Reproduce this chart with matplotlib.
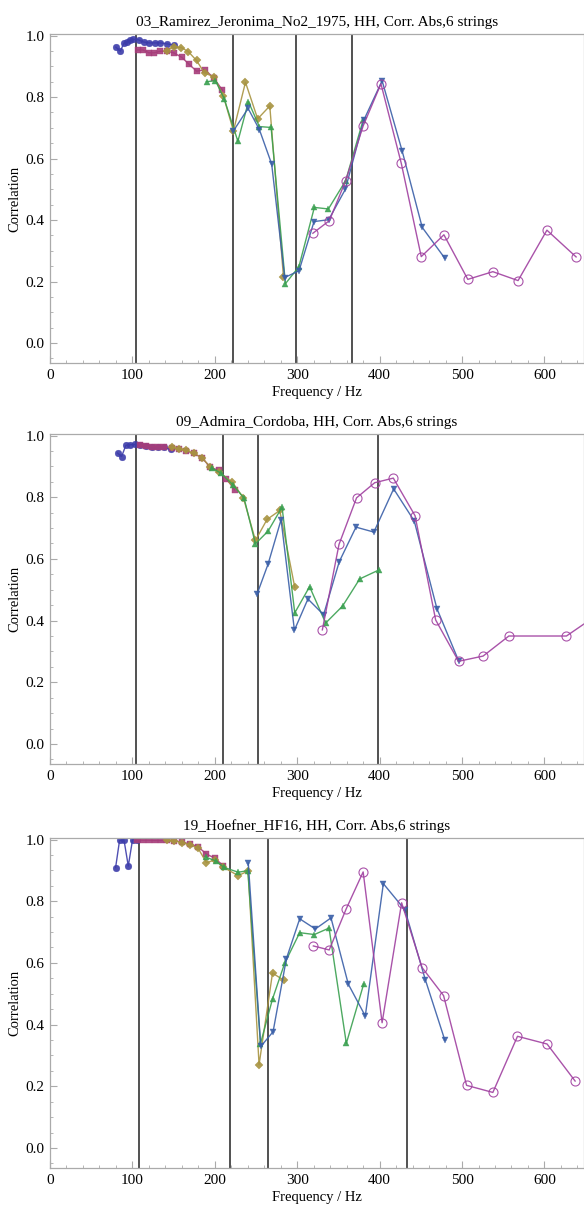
import numpy as np
import matplotlib.pyplot as plt
from matplotlib.ticker import MultipleLocator

plt.rcParams['font.family'] = ['Liberation Serif', 'DejaVu Serif']

# colours / markers of the six series (Mathematica default style)
colors = ['#3c3caa', '#a63d7a', '#a89440', '#3aa050', '#3a5fa8', '#a040a0']
markers = ['o', 's', 'D', '^', 'v', 'o']

# ---- panel 1: 03_Ramirez_Jeronima_No2_1975
ram_f1 = [80, 85.3, 89.7, 93.7, 97, 100.6, 107.5, 113.5, 120.4, 127.3, 134, 142, 151]
ram_c1 = [0.962, 0.949, 0.975, 0.980, 0.985, 0.988, 0.986, 0.979, 0.976, 0.976, 0.976, 0.973, 0.968]
ram_f2 = [106.3, 112.7, 120, 126.5, 134, 141.4, 150, 160, 168.9, 178, 187.9, 198.8, 209.3]
ram_c2 = [0.953, 0.953, 0.944, 0.944, 0.949, 0.949, 0.944, 0.929, 0.906, 0.884, 0.889, 0.862, 0.822]
ram_f3 = [142.2, 150.3, 159.2, 167.7, 177.8, 187.5, 199, 210.5, 222.6, 237.2, 252, 266.7, 283.3]
ram_c3 = [0.951, 0.964, 0.961, 0.948, 0.919, 0.878, 0.866, 0.802, 0.690, 0.848, 0.729, 0.771, 0.215]
ram_f4 = [190, 200.8, 211.3, 228, 240.8, 254, 268.3, 285.7, 302, 320.8, 337.8, 358.8, 380]
ram_c4 = [0.850, 0.853, 0.795, 0.656, 0.785, 0.704, 0.701, 0.193, 0.248, 0.441, 0.436, 0.528, 0.725]
ram_f5 = [222.6, 240.4, 254.1, 269, 284.8, 302.2, 320.4, 338.2, 358.4, 381, 403, 427.5, 451.7, 479]
ram_c5 = [0.690, 0.763, 0.694, 0.582, 0.213, 0.235, 0.395, 0.401, 0.500, 0.726, 0.853, 0.623, 0.376, 0.276]
ram_f6 = [319, 339, 358.8, 380, 401.6, 426.3, 450.5, 478, 507, 537.4, 568, 603, 638.4]
ram_c6 = [0.357, 0.398, 0.528, 0.706, 0.843, 0.584, 0.281, 0.352, 0.207, 0.232, 0.203, 0.367, 0.280]
ram_vlines = [104, 222, 299, 367]

# ---- panel 2: 09_Admira_Cordoba
adm_f1 = [82, 86.9, 92, 97, 103.4, 109, 116.4, 123.6, 131.3, 138.6, 146.7]
adm_c1 = [0.943, 0.932, 0.968, 0.970, 0.971, 0.969, 0.967, 0.964, 0.963, 0.962, 0.955]
adm_f2 = [109, 116.4, 123.6, 131.3, 138.6, 147.5, 156, 164.8, 174.5, 184.6, 194.7, 205, 214, 224]
adm_c2 = [0.969, 0.967, 0.964, 0.963, 0.962, 0.960, 0.956, 0.951, 0.942, 0.927, 0.897, 0.887, 0.860, 0.824]
adm_f3 = [147.5, 156, 164.8, 174.5, 184.6, 194.7, 205.3, 221.4, 234.7, 249.3, 263.4, 278.8, 297]
adm_c3 = [0.962, 0.957, 0.952, 0.943, 0.928, 0.897, 0.881, 0.848, 0.798, 0.660, 0.728, 0.757, 0.508]
adm_f4 = [196, 207, 222, 235.5, 249.3, 264.6, 281.6, 297, 315, 334.5, 355, 375.8, 399]
adm_c4 = [0.895, 0.879, 0.840, 0.797, 0.649, 0.690, 0.768, 0.425, 0.510, 0.392, 0.447, 0.535, 0.564]
adm_f5 = [251.3, 264.6, 280.4, 296.6, 313, 332, 351, 371.3, 393, 417, 442, 469.5, 495.8]
adm_c5 = [0.486, 0.583, 0.727, 0.369, 0.470, 0.419, 0.591, 0.703, 0.687, 0.827, 0.723, 0.439, 0.270]
adm_f6 = [330.5, 350.7, 372, 394, 416.6, 443, 468, 495.8, 525.6, 556.8, 626.7, 660]
adm_c6 = [0.370, 0.647, 0.798, 0.847, 0.862, 0.740, 0.402, 0.268, 0.285, 0.350, 0.350, 0.411]
adm_vlines = [104, 210, 253, 398]

# ---- panel 3: 19_Hoefner_HF16
hoe_f1 = [79.6, 84.4, 89.7, 95, 100.2, 105.9]
hoe_c1 = [0.909, 0.997, 1.0, 0.914, 1.0, 0.999]
hoe_f2 = [105.9, 113, 120, 127, 134.5, 142, 150.7, 160, 169.3, 179.4, 189.9, 200.4, 210.5]
hoe_c2 = [0.999, 0.998, 0.998, 0.997, 0.997, 0.997, 0.996, 0.992, 0.986, 0.977, 0.953, 0.939, 0.914]
hoe_f3 = [142, 150.7, 160, 169.3, 179.4, 189.9, 200.4, 210.5, 228.3, 240.4, 253.7, 270, 284.2]
hoe_c3 = [0.997, 0.996, 0.990, 0.983, 0.973, 0.925, 0.934, 0.910, 0.883, 0.898, 0.270, 0.567, 0.543]
hoe_f4 = [189.9, 201, 211, 228.3, 240, 255.4, 270, 284.8, 303, 320.8, 338.6, 359.6, 380.6]
hoe_c4 = [0.942, 0.931, 0.910, 0.894, 0.899, 0.338, 0.483, 0.599, 0.698, 0.692, 0.713, 0.339, 0.531]
hoe_f5 = [240.6, 255.8, 270.7, 286.9, 303, 322, 341, 362, 382.6, 404.5, 430.7, 455.4, 479.2]
hoe_c5 = [0.924, 0.329, 0.377, 0.614, 0.743, 0.710, 0.746, 0.531, 0.428, 0.857, 0.772, 0.546, 0.349]
hoe_f6 = [319.6, 338.8, 359.4, 380, 403, 426.7, 451.5, 477.6, 505.5, 537.4, 567.3, 603.2, 637.2]
hoe_c6 = [0.655, 0.642, 0.775, 0.895, 0.406, 0.795, 0.585, 0.494, 0.203, 0.180, 0.362, 0.337, 0.217]
hoe_vlines = [107.5, 218, 265, 433.5]

titles = ['03_Ramirez_Jeronima_No2_1975, HH, Corr. Abs,6 strings',
          '09_Admira_Cordoba, HH, Corr. Abs,6 strings',
          '19_Hoefner_HF16, HH, Corr. Abs,6 strings']

panels = [
    ([(ram_f1, ram_c1), (ram_f2, ram_c2), (ram_f3, ram_c3), (ram_f4, ram_c4),
      (ram_f5, ram_c5), (ram_f6, ram_c6)], ram_vlines),
    ([(adm_f1, adm_c1), (adm_f2, adm_c2), (adm_f3, adm_c3), (adm_f4, adm_c4),
      (adm_f5, adm_c5), (adm_f6, adm_c6)], adm_vlines),
    ([(hoe_f1, hoe_c1), (hoe_f2, hoe_c2), (hoe_f3, hoe_c3), (hoe_f4, hoe_c4),
      (hoe_f5, hoe_c5), (hoe_f6, hoe_c6)], hoe_vlines),
]

W, H = 584, 1211
fig = plt.figure(figsize=(W / 100, H / 100), dpi=100)

# axes boxes in pixels: top, bottom
boxes = [(34, 363), (434, 764), (838, 1168)]
left = 50

for k, ((series, vlines), (top, bot)) in enumerate(zip(panels, boxes)):
    ax = fig.add_axes([left / W, 1 - bot / H, (W - left) / W, (bot - top) / H])
    for v in vlines:
        ax.axvline(v, color='#222222', lw=1.1, zorder=1)
    for i, (f, c) in enumerate(series):
        col = colors[i]
        if i == 5:
            ax.plot(f, c, color=col, lw=1.0, marker='o', ms=6.5, mfc='none',
                    mec=col, mew=0.8, alpha=0.9, zorder=2)
        else:
            ms = {'o': 4.8, 's': 4.3, 'D': 4.0, '^': 5.0, 'v': 5.0}[markers[i]]
            ax.plot(f, c, color=col, lw=1.0, marker=markers[i], ms=ms,
                    mec=col, mew=0.3, alpha=0.9, zorder=2)
    ax.set_xlim(0, 648)
    ax.set_ylim(-0.065, 1.005)
    ax.xaxis.set_major_locator(MultipleLocator(100))
    ax.xaxis.set_minor_locator(MultipleLocator(20))
    ax.yaxis.set_major_locator(MultipleLocator(0.2))
    ax.yaxis.set_minor_locator(MultipleLocator(0.05))
    ax.yaxis.set_major_formatter(plt.FuncFormatter(lambda v, p: f'{v:.1f}'))
    for s in ax.spines.values():
        s.set_color('#aaaaaa')
        s.set_linewidth(0.9)
    ax.tick_params(which='both', direction='in', color='#aaaaaa',
                   top=True, right=False, labelsize=11, pad=4)
    ax.tick_params(which='major', length=5, width=0.8)
    ax.tick_params(which='minor', length=2.5, width=0.6)
    ax.tick_params(axis='x', which='both', top=False)
    ax.set_title(titles[k], fontsize=11, pad=6)
    ax.set_xlabel('Frequency / Hz', fontsize=10.5, labelpad=3)
    ax.set_ylabel('Correlation', fontsize=10.5, labelpad=3)

fig.savefig('out.png', dpi=100)
